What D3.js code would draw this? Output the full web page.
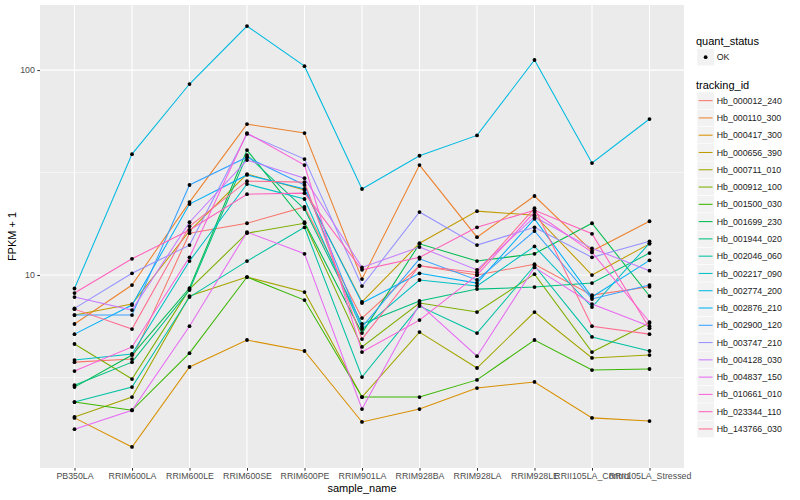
<!DOCTYPE html>
<html><head><meta charset="utf-8">
<script src="https://cdn.jsdelivr.net/npm/d3@7"></script>
<style>body{margin:0;background:#fff}svg{display:block}text{font-family:"Liberation Sans",Arial,Helvetica,sans-serif}</style>
</head><body>
<svg id="c" width="800" height="500"></svg>
<script>
const samples = ["PB350LA","RRIM600LA","RRIM600LE","RRIM600SE","RRIM600PE","RRIM901LA","RRIM928BA","RRIM928LA","RRIM928LE","RRII105LA_Control","RRII105LA_Stressed"];
const trackingIds = ["Hb_000012_240","Hb_000110_300","Hb_000417_300","Hb_000656_390","Hb_000711_010","Hb_000912_100","Hb_001500_030","Hb_001699_230","Hb_001944_020","Hb_002046_060","Hb_002217_090","Hb_002774_200","Hb_002876_210","Hb_002900_120","Hb_003747_210","Hb_004128_030","Hb_004837_150","Hb_010661_010","Hb_023344_110","Hb_143766_030"];
const colors = ["#F8766D","#EA8331","#D89000","#C09B00","#A3A500","#7CAE00","#39B600","#00BB4E","#00BF7D","#00C1A3","#00BFC4","#00BAE0","#00B0F6","#35A2FF","#9590FF","#C77CFF","#E76BF3","#FA62DB","#FF62BC","#FF6C91"];
// FPKM + 1 values, one array per tracking_id, in sample order
const v_000012_240 = [3.76,3.89,16.0,17.9,21.5,6.17,11.1,10.0,11.3,7.98,8.76];
const v_000110_300 = [5.77,8.94,22.7,54.5,49.3,9.56,34.4,15.3,24.3,13.1,18.3];
const v_000417_300 = [2.01,1.45,3.56,4.82,4.26,1.92,2.22,2.81,3.01,2.01,1.94];
const v_000656_390 = [6.38,7.22,16.4,31.1,26.0,7.39,14.3,20.5,19.6,10.0,14.2];
const v_000711_010 = [2.03,2.54,7.9,9.78,8.26,2.54,5.27,3.52,6.6,3.94,4.07];
const v_000912_100 = [4.61,3.11,8.54,16.0,17.9,4.46,7.3,6.6,10.1,4.21,5.83];
const v_001500_030 = [2.40,2.19,4.16,9.78,7.55,2.54,2.54,3.08,4.82,3.44,3.48];
const v_001699_230 = [2.84,4.07,8.64,40.7,18.1,5.21,14.2,11.7,12.7,17.9,7.9];
const v_001944_020 = [2.9,3.76,8.45,38.5,21.0,5.77,7.47,8.54,8.74,9.14,12.8];
const v_002046_060 = [2.4,2.84,7.81,11.7,17.1,3.18,7.06,5.21,11.1,4.99,4.26];
const v_002217_090 = [3.85,4.12,11.7,27.8,23.5,5.45,9.46,8.84,13.8,6.98,14.3];
const v_002774_200 = [8.6,38.9,85.5,164,104.5,26.3,38.2,48,112,35.2,57.7];
const v_002876_210 = [5.15,7.14,22.2,30.8,26.3,7.3,10.2,9.14,18.8,7.81,11.8];
const v_002900_120 = [6.38,6.38,27.5,37.6,27.5,5.58,12.0,9.46,16.4,7.64,8.94];
const v_003747_210 = [6.88,10.2,14.0,48.8,36.8,8.84,20.3,14.0,17.1,12.2,14.6];
const v_004128_030 = [7.81,6.75,18.1,36.4,29.7,10.9,13.7,10.6,19.2,13.5,10.5];
const v_004837_150 = [1.77,2.19,5.63,16.2,12.7,2.22,7.22,4.02,10.9,7.22,5.63];
const v_010661_010 = [3.40,4.46,12.2,49.3,34.4,4.21,6.03,10.0,20.3,12.9,5.9];
const v_023344_110 = [8.17,12.0,16.6,24.8,25.1,10.6,12.2,17.1,20.7,15.9,5.5];
const v_143766_030 = [6.82,5.45,17.3,28.7,28.4,4.87,11.1,10.3,21.2,5.63,5.15];
const seriesValues = [v_000012_240,v_000110_300,v_000417_300,v_000656_390,v_000711_010,v_000912_100,v_001500_030,v_001699_230,v_001944_020,v_002046_060,v_002217_090,v_002774_200,v_002876_210,v_002900_120,v_003747_210,v_004128_030,v_004837_150,v_010661_010,v_023344_110,v_143766_030];
const yTicks = [10,100];
const yMinor = [Math.sqrt(10), Math.sqrt(1000)];
const quantStatus = ["OK"];

const svg = d3.select("#c");
const P = {l:40, r:684, t:5, b:468};
const all = seriesValues.flat();
const lo = Math.log10(d3.min(all)), hi = Math.log10(d3.max(all)), pad = (hi-lo)*0.05;
const y = d3.scaleLog().domain([Math.pow(10,lo-pad), Math.pow(10,hi+pad)]).range([P.b,P.t]);
const x = d3.scalePoint().domain(samples).range([P.l,P.r]).padding(0.6);

svg.append("rect").attr("x",P.l).attr("y",P.t).attr("width",P.r-P.l).attr("height",P.b-P.t).attr("fill","#EBEBEB");
const g = svg.append("g");
g.selectAll(".mn").data(yMinor).join("line").attr("x1",P.l).attr("x2",P.r).attr("y1",d=>y(d)).attr("y2",d=>y(d)).attr("stroke","#fff").attr("stroke-width",0.55);
g.selectAll(".mj").data(yTicks).join("line").attr("x1",P.l).attr("x2",P.r).attr("y1",d=>y(d)).attr("y2",d=>y(d)).attr("stroke","#fff").attr("stroke-width",1.1);
g.selectAll(".vx").data(samples).join("line").attr("x1",d=>x(d)).attr("x2",d=>x(d)).attr("y1",P.t).attr("y2",P.b).attr("stroke","#fff").attr("stroke-width",1.1);

const line = d3.line().x((d,i)=>x(samples[i])).y(d=>y(d));
seriesValues.forEach((vals,k)=>{
  svg.append("path").attr("d",line(vals)).attr("fill","none").attr("stroke",colors[k]).attr("stroke-width",1.05);
});
seriesValues.forEach((vals)=>{
  svg.append("g").selectAll("circle").data(vals).join("circle").attr("cx",(d,i)=>x(samples[i])).attr("cy",d=>y(d)).attr("r",1.9).attr("fill","#000");
});

// axes
const ya = svg.append("g").attr("transform",`translate(${P.l},0)`).call(d3.axisLeft(y).tickValues(yTicks).tickFormat(d3.format("d")).tickSize(2.7).tickPadding(2.5));
const xa = svg.append("g").attr("transform",`translate(0,${P.b})`).call(d3.axisBottom(x).tickSize(2.7).tickPadding(2.5));
[ya,xa].forEach(a=>{a.select(".domain").remove();a.selectAll("line").attr("stroke","#333333");a.selectAll("text").attr("fill","#4D4D4D").style("font-size","8.8px").style("font-family","Liberation Sans, Arial, sans-serif");});
svg.append("text").attr("x",(P.l+P.r)/2).attr("y",492).attr("text-anchor","middle").style("font-size","11px").text("sample_name");
svg.append("text").attr("transform",`translate(16,${(P.t+P.b)/2}) rotate(-90)`).attr("text-anchor","middle").style("font-size","11px").text("FPKM + 1");

// legend
const lx = 696, kx = 697, ks = 17.28;
svg.append("text").attr("x",lx).attr("y",44.5).style("font-size","11px").text("quant_status");
quantStatus.forEach((q,i)=>{
  const ky = 48.5 + i*ks;
  svg.append("rect").attr("x",kx).attr("y",ky).attr("width",ks).attr("height",ks).attr("fill","#F2F2F2").attr("stroke","#fff").attr("stroke-width",0.5);
  svg.append("circle").attr("cx",kx+ks/2).attr("cy",ky+ks/2).attr("r",1.9).attr("fill","#000");
  svg.append("text").attr("x",kx+ks+2.5).attr("y",ky+ks/2).attr("dy","0.35em").style("font-size","8.8px").attr("fill","#1A1A1A").text(q);
});
svg.append("text").attr("x",lx).attr("y",88.8).style("font-size","11px").text("tracking_id");
trackingIds.forEach((t,i)=>{
  const ky = 92 + i*ks;
  svg.append("rect").attr("x",kx).attr("y",ky).attr("width",ks).attr("height",ks).attr("fill","#F2F2F2").attr("stroke","#fff").attr("stroke-width",0.5);
  svg.append("line").attr("x1",kx+1.7).attr("x2",kx+ks-1.7).attr("y1",ky+ks/2).attr("y2",ky+ks/2).attr("stroke",colors[i]).attr("stroke-width",1.05);
  svg.append("text").attr("x",kx+ks+2.5).attr("y",ky+ks/2).attr("dy","0.35em").style("font-size","8.8px").attr("fill","#1A1A1A").text(t);
});
</script>
</body></html>
